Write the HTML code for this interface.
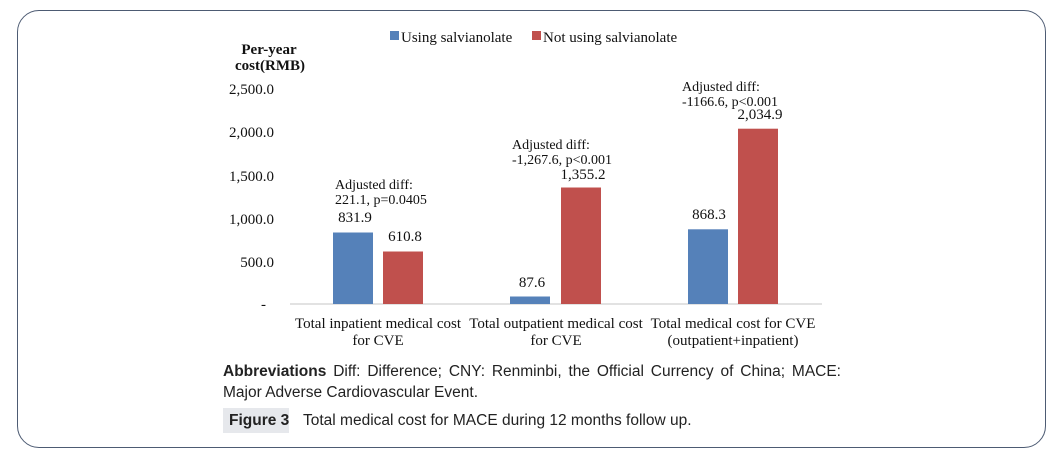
<!DOCTYPE html>
<html><head><meta charset="utf-8"><style>
body{margin:0;width:1057px;height:460px;background:#fff;overflow:hidden;position:relative}
.box{position:absolute;left:17px;top:10px;width:1027px;height:436px;border:1.5px solid #4d5b73;border-radius:22px}
.cap{position:absolute;font-family:"Liberation Sans",sans-serif;font-size:15.5px;color:#222}
</style></head><body>
<div class="box"></div>
<svg width="1057" height="460" style="position:absolute;left:0;top:0" font-family="Liberation Serif,serif" font-size="15" fill="#111">
<rect x="390" y="31" width="9" height="9" fill="#5581b9"/><text x="401" y="42">Using salvianolate</text>
<rect x="532" y="31" width="9" height="9" fill="#c0504d"/><text x="543" y="42">Not using salvianolate</text>
<text x="269" y="54" text-anchor="middle" font-weight="bold">Per-year</text>
<text x="270" y="70" text-anchor="middle" font-weight="bold">cost(RMB)</text>
<g text-anchor="end">
<text x="274" y="94">2,500.0</text>
<text x="274" y="137">2,000.0</text>
<text x="274" y="181">1,500.0</text>
<text x="274" y="224">1,000.0</text>
<text x="274" y="267">500.0</text>
<text x="266" y="309">-</text>
</g>
<line x1="290" y1="304" x2="822" y2="304" stroke="#d9d9d9" stroke-width="1.5"/>
<rect x="333" y="232.5" width="40" height="71.5" fill="#5581b9"/>
<rect x="383" y="251.5" width="40" height="52.5" fill="#c0504d"/>
<rect x="510" y="296.5" width="40" height="7.5" fill="#5581b9"/>
<rect x="561" y="187.5" width="40" height="116.5" fill="#c0504d"/>
<rect x="688" y="229.3" width="40" height="74.7" fill="#5581b9"/>
<rect x="738" y="128.7" width="40" height="175.3" fill="#c0504d"/>
<g text-anchor="middle">
<text x="355" y="222">831.9</text>
<text x="405" y="241">610.8</text>
<text x="532" y="287">87.6</text>
<text x="583" y="179">1,355.2</text>
<text x="709" y="219">868.3</text>
<text x="760" y="119">2,034.9</text>
</g>
<g font-size="14">
<text x="335" y="189">Adjusted diff:</text>
<text x="335" y="204">221.1, p=0.0405</text>
<text x="512" y="149">Adjusted diff:</text>
<text x="512" y="164">-1,267.6, p&lt;0.001</text>
<text x="682" y="91">Adjusted diff:</text>
<text x="682" y="106">-1166.6, p&lt;0.001</text>
</g>
<g text-anchor="middle">
<text x="378" y="328">Total inpatient medical cost</text>
<text x="378" y="345">for CVE</text>
<text x="556" y="328">Total outpatient medical cost</text>
<text x="556" y="345">for CVE</text>
<text x="733" y="328">Total medical cost for CVE</text>
<text x="733" y="345">(outpatient+inpatient)</text>
</g>
</svg>
<div class="cap" style="left:223px;top:361px;width:618px;text-align:justify;text-align-last:left;line-height:21px"><b>Abbreviations</b> Diff: Difference; CNY: Renminbi, the Official Currency of China; MACE: Major Adverse Cardiovascular Event.</div>
<div class="cap" style="left:223px;top:408px;width:66px;height:25px;background:#e6e8ec"></div>
<div class="cap" style="left:229px;top:412px"><b>Figure 3</b></div>
<div class="cap" style="left:303px;top:412px">Total medical cost for MACE during 12 months follow up.</div>
</body></html>
